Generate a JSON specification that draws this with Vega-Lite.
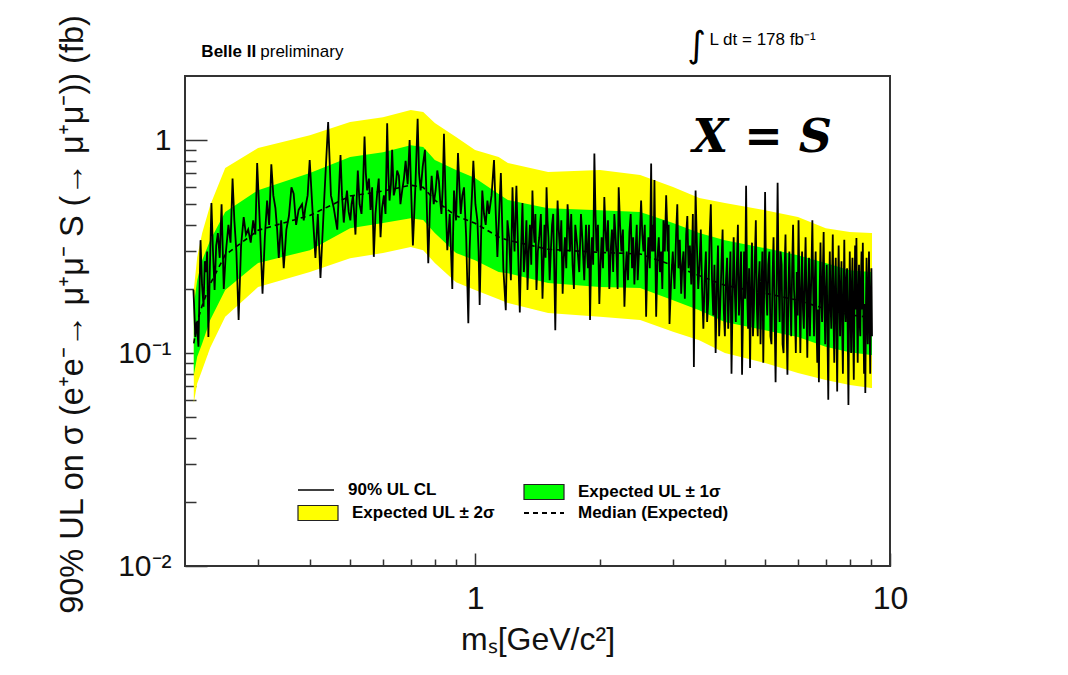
{
  "$schema": "https://vega.github.io/schema/vega-lite/v6.json",
  "width": 705,
  "height": 490,
  "autosize": {"type": "none"},
  "padding": {"left": 185, "top": 76, "right": 178, "bottom": 109},
  "background": "white",
  "config": {
    "view": {"stroke": "#333333", "strokeWidth": 2},
    "font": "Liberation Sans",
    "legend": {"orient": "none", "title": null, "padding": 0, "symbolSize": 1600, "labelOffset": 13, "labelFont": "Liberation Sans", "labelFontWeight": "bold", "labelFontSize": 17, "labelColor": "#000", "symbolOpacity": 1}
  },
  "resolve": {"axis": {"x": "independent", "y": "independent"}, "scale": {"color": "independent"}, "legend": {"color": "independent"}},
  "datasets": {
    "bands": [
      {"m": 0.21, "y2lo": 0.0582, "y1lo": 0.0788, "med": 0.111, "y1hi": 0.168, "y2hi": 0.198},
      {"m": 0.214, "y2lo": 0.072, "y1lo": 0.096, "med": 0.14, "y1hi": 0.22, "y2hi": 0.282},
      {"m": 0.22, "y2lo": 0.0832, "y1lo": 0.111, "med": 0.167, "y1hi": 0.273, "y2hi": 0.366},
      {"m": 0.23, "y2lo": 0.106, "y1lo": 0.143, "med": 0.211, "y1hi": 0.339, "y2hi": 0.495},
      {"m": 0.25, "y2lo": 0.148, "y1lo": 0.198, "med": 0.289, "y1hi": 0.459, "y2hi": 0.739},
      {"m": 0.3, "y2lo": 0.204, "y1lo": 0.265, "med": 0.377, "y1hi": 0.582, "y2hi": 0.917},
      {"m": 0.4, "y2lo": 0.24, "y1lo": 0.304, "med": 0.443, "y1hi": 0.7, "y2hi": 1.055},
      {"m": 0.5, "y2lo": 0.279, "y1lo": 0.386, "med": 0.546, "y1hi": 0.832, "y2hi": 1.215},
      {"m": 0.6, "y2lo": 0.295, "y1lo": 0.408, "med": 0.576, "y1hi": 0.878, "y2hi": 1.282},
      {"m": 0.7, "y2lo": 0.315, "y1lo": 0.43, "med": 0.614, "y1hi": 0.947, "y2hi": 1.383},
      {"m": 0.75, "y2lo": 0.304, "y1lo": 0.421, "med": 0.6, "y1hi": 0.927, "y2hi": 1.354},
      {"m": 0.8, "y2lo": 0.265, "y1lo": 0.366, "med": 0.522, "y1hi": 0.806, "y2hi": 1.202},
      {"m": 0.9, "y2lo": 0.215, "y1lo": 0.295, "med": 0.441, "y1hi": 0.723, "y2hi": 1.033},
      {"m": 1.0, "y2lo": 0.198, "y1lo": 0.273, "med": 0.407, "y1hi": 0.663, "y2hi": 0.898},
      {"m": 1.14, "y2lo": 0.179, "y1lo": 0.24, "med": 0.351, "y1hi": 0.558, "y2hi": 0.832},
      {"m": 1.2, "y2lo": 0.172, "y1lo": 0.237, "med": 0.339, "y1hi": 0.523, "y2hi": 0.78},
      {"m": 1.5, "y2lo": 0.154, "y1lo": 0.213, "med": 0.307, "y1hi": 0.479, "y2hi": 0.708},
      {"m": 2.0, "y2lo": 0.148, "y1lo": 0.204, "med": 0.297, "y1hi": 0.469, "y2hi": 0.723},
      {"m": 2.5, "y2lo": 0.143, "y1lo": 0.202, "med": 0.292, "y1hi": 0.459, "y2hi": 0.685},
      {"m": 3.0, "y2lo": 0.126, "y1lo": 0.177, "med": 0.258, "y1hi": 0.408, "y2hi": 0.602},
      {"m": 3.47, "y2lo": 0.115, "y1lo": 0.159, "med": 0.231, "y1hi": 0.366, "y2hi": 0.534},
      {"m": 4.0, "y2lo": 0.1, "y1lo": 0.14, "med": 0.208, "y1hi": 0.339, "y2hi": 0.506},
      {"m": 5.0, "y2lo": 0.0898, "y1lo": 0.128, "med": 0.191, "y1hi": 0.311, "y2hi": 0.469},
      {"m": 6.0, "y2lo": 0.0805, "y1lo": 0.119, "med": 0.177, "y1hi": 0.288, "y2hi": 0.435},
      {"m": 7.0, "y2lo": 0.0747, "y1lo": 0.107, "med": 0.161, "y1hi": 0.265, "y2hi": 0.386},
      {"m": 8.0, "y2lo": 0.0708, "y1lo": 0.101, "med": 0.151, "y1hi": 0.245, "y2hi": 0.37},
      {"m": 9.0, "y2lo": 0.0685, "y1lo": 0.0979, "med": 0.147, "y1hi": 0.24, "y2hi": 0.366},
      {"m": 9.05, "y2lo": 0.0685, "y1lo": 0.0979, "med": 0.147, "y1hi": 0.24, "y2hi": 0.366}
    ],
    "obs": [
      {"m": 0.2096, "v": 0.198}, {"m": 0.2118, "v": 0.119}, {"m": 0.2135, "v": 0.14}, {"m": 0.2155, "v": 0.107},
      {"m": 0.2168, "v": 0.2}, {"m": 0.218, "v": 0.339}, {"m": 0.2198, "v": 0.21}, {"m": 0.2217, "v": 0.165},
      {"m": 0.2232, "v": 0.27}, {"m": 0.2247, "v": 0.24}, {"m": 0.2262, "v": 0.3}, {"m": 0.2277, "v": 0.119},
      {"m": 0.2296, "v": 0.25}, {"m": 0.2316, "v": 0.506}, {"m": 0.2336, "v": 0.3}, {"m": 0.2357, "v": 0.198},
      {"m": 0.2378, "v": 0.32}, {"m": 0.24, "v": 0.366}, {"m": 0.2425, "v": 0.28}, {"m": 0.245, "v": 0.5},
      {"m": 0.248, "v": 0.2}, {"m": 0.251, "v": 0.3}, {"m": 0.2545, "v": 0.4}, {"m": 0.2575, "v": 0.33},
      {"m": 0.2604, "v": 0.66}, {"m": 0.263, "v": 0.42}, {"m": 0.266, "v": 0.3}, {"m": 0.2693, "v": 0.143},
      {"m": 0.273, "v": 0.32}, {"m": 0.277, "v": 0.435}, {"m": 0.2805, "v": 0.36}, {"m": 0.284, "v": 0.38},
      {"m": 0.288, "v": 0.33}, {"m": 0.292, "v": 0.42}, {"m": 0.2955, "v": 0.36}, {"m": 0.2985, "v": 0.78},
      {"m": 0.303, "v": 0.4}, {"m": 0.3075, "v": 0.19}, {"m": 0.3115, "v": 0.35}, {"m": 0.3154, "v": 0.52},
      {"m": 0.319, "v": 0.4}, {"m": 0.3229, "v": 0.77}, {"m": 0.3265, "v": 0.55}, {"m": 0.3303, "v": 0.48},
      {"m": 0.3335, "v": 0.38}, {"m": 0.3365, "v": 0.28}, {"m": 0.341, "v": 0.42}, {"m": 0.3459, "v": 0.25},
      {"m": 0.351, "v": 0.38}, {"m": 0.356, "v": 0.44}, {"m": 0.361, "v": 0.6}, {"m": 0.3655, "v": 0.56},
      {"m": 0.3705, "v": 0.4}, {"m": 0.3757, "v": 0.47}, {"m": 0.3829, "v": 0.5}, {"m": 0.3865, "v": 0.42},
      {"m": 0.3899, "v": 0.48}, {"m": 0.395, "v": 0.55}, {"m": 0.3995, "v": 0.806}, {"m": 0.406, "v": 0.46},
      {"m": 0.4124, "v": 0.28}, {"m": 0.418, "v": 0.45}, {"m": 0.4241, "v": 0.225}, {"m": 0.4335, "v": 0.55},
      {"m": 0.4426, "v": 1.215}, {"m": 0.4495, "v": 0.55}, {"m": 0.4566, "v": 0.48}, {"m": 0.4655, "v": 0.38},
      {"m": 0.474, "v": 0.85}, {"m": 0.478, "v": 0.55}, {"m": 0.4827, "v": 0.41}, {"m": 0.487, "v": 0.5},
      {"m": 0.4914, "v": 0.58}, {"m": 0.496, "v": 0.46}, {"m": 0.5007, "v": 0.42}, {"m": 0.504, "v": 0.5},
      {"m": 0.508, "v": 0.55}, {"m": 0.5115, "v": 0.45}, {"m": 0.515, "v": 0.36}, {"m": 0.518, "v": 0.5},
      {"m": 0.5218, "v": 0.72}, {"m": 0.527, "v": 0.5}, {"m": 0.5326, "v": 0.45}, {"m": 0.537, "v": 0.6},
      {"m": 0.5416, "v": 1.04}, {"m": 0.5455, "v": 0.7}, {"m": 0.5495, "v": 0.58}, {"m": 0.555, "v": 0.66},
      {"m": 0.56, "v": 0.47}, {"m": 0.565, "v": 0.6}, {"m": 0.5702, "v": 0.283}, {"m": 0.5755, "v": 0.45},
      {"m": 0.5808, "v": 0.56}, {"m": 0.586, "v": 0.66}, {"m": 0.5919, "v": 0.35}, {"m": 0.597, "v": 0.48},
      {"m": 0.603, "v": 0.55}, {"m": 0.6085, "v": 0.45}, {"m": 0.6141, "v": 1.2}, {"m": 0.618, "v": 0.7},
      {"m": 0.6222, "v": 0.52}, {"m": 0.627, "v": 0.62}, {"m": 0.6313, "v": 0.9}, {"m": 0.637, "v": 0.55},
      {"m": 0.6435, "v": 0.6}, {"m": 0.649, "v": 0.72}, {"m": 0.6553, "v": 0.68}, {"m": 0.661, "v": 0.5},
      {"m": 0.6675, "v": 0.58}, {"m": 0.674, "v": 0.66}, {"m": 0.6803, "v": 0.8}, {"m": 0.688, "v": 0.62},
      {"m": 0.6956, "v": 1.0}, {"m": 0.702, "v": 0.55}, {"m": 0.7084, "v": 0.32}, {"m": 0.718, "v": 0.6},
      {"m": 0.7272, "v": 1.26}, {"m": 0.733, "v": 0.7}, {"m": 0.7395, "v": 0.58}, {"m": 0.748, "v": 0.75},
      {"m": 0.7573, "v": 0.9}, {"m": 0.764, "v": 0.55}, {"m": 0.7714, "v": 0.264}, {"m": 0.779, "v": 0.5},
      {"m": 0.7861, "v": 0.68}, {"m": 0.795, "v": 0.5}, {"m": 0.8036, "v": 0.58}, {"m": 0.811, "v": 0.72},
      {"m": 0.8185, "v": 0.64}, {"m": 0.824, "v": 0.52}, {"m": 0.83, "v": 0.45}, {"m": 0.836, "v": 0.6},
      {"m": 0.8416, "v": 1.07}, {"m": 0.85, "v": 0.5}, {"m": 0.8573, "v": 0.304}, {"m": 0.869, "v": 0.45},
      {"m": 0.8814, "v": 0.2}, {"m": 0.885, "v": 0.35}, {"m": 0.8898, "v": 0.58}, {"m": 0.9, "v": 0.42},
      {"m": 0.9097, "v": 0.87}, {"m": 0.917, "v": 0.6}, {"m": 0.9236, "v": 0.45}, {"m": 0.932, "v": 0.55},
      {"m": 0.9406, "v": 0.6}, {"m": 0.952, "v": 0.35}, {"m": 0.9634, "v": 0.138}, {"m": 0.97, "v": 0.3},
      {"m": 0.9763, "v": 0.42}, {"m": 0.983, "v": 0.55}, {"m": 0.9906, "v": 0.8}, {"m": 1.002, "v": 0.5},
      {"m": 1.013, "v": 0.42}, {"m": 1.02, "v": 0.3}, {"m": 1.026, "v": 0.168}, {"m": 1.034, "v": 0.35},
      {"m": 1.041, "v": 0.58}, {"m": 1.051, "v": 0.45}, {"m": 1.061, "v": 0.4}, {"m": 1.071, "v": 0.52},
      {"m": 1.081, "v": 0.45}, {"m": 1.096, "v": 0.55}, {"m": 1.111, "v": 0.806}, {"m": 1.122, "v": 0.45},
      {"m": 1.132, "v": 0.283}, {"m": 1.143, "v": 0.45}, {"m": 1.154, "v": 0.7}, {"m": 1.17, "v": 0.25},
      {"m": 1.186, "v": 0.159}, {"m": 1.197, "v": 0.42}, {"m": 1.208, "v": 0.35}, {"m": 1.22, "v": 0.22},
      {"m": 1.231, "v": 0.6}, {"m": 1.238, "v": 0.4}, {"m": 1.245, "v": 0.3}, {"m": 1.252, "v": 0.45},
      {"m": 1.258, "v": 0.61}, {"m": 1.27, "v": 0.3}, {"m": 1.282, "v": 0.155}, {"m": 1.292, "v": 0.32},
      {"m": 1.301, "v": 0.506}, {"m": 1.311, "v": 0.24}, {"m": 1.321, "v": 0.3}, {"m": 1.33, "v": 0.42},
      {"m": 1.338, "v": 0.198}, {"m": 1.347, "v": 0.3}, {"m": 1.356, "v": 0.4}, {"m": 1.366, "v": 0.26},
      {"m": 1.375, "v": 0.58}, {"m": 1.383, "v": 0.4}, {"m": 1.391, "v": 0.33}, {"m": 1.398, "v": 0.45},
      {"m": 1.406, "v": 0.198}, {"m": 1.417, "v": 0.3}, {"m": 1.428, "v": 0.35}, {"m": 1.441, "v": 0.45},
      {"m": 1.454, "v": 0.18}, {"m": 1.462, "v": 0.26}, {"m": 1.47, "v": 0.4}, {"m": 1.479, "v": 0.28},
      {"m": 1.487, "v": 0.6}, {"m": 1.495, "v": 0.42}, {"m": 1.503, "v": 0.35}, {"m": 1.513, "v": 0.22},
      {"m": 1.523, "v": 0.304}, {"m": 1.533, "v": 0.4}, {"m": 1.543, "v": 0.45}, {"m": 1.552, "v": 0.25},
      {"m": 1.561, "v": 0.128}, {"m": 1.571, "v": 0.3}, {"m": 1.581, "v": 0.52}, {"m": 1.591, "v": 0.38},
      {"m": 1.602, "v": 0.3}, {"m": 1.614, "v": 0.42}, {"m": 1.626, "v": 0.19}, {"m": 1.636, "v": 0.28},
      {"m": 1.647, "v": 0.35}, {"m": 1.659, "v": 0.25}, {"m": 1.671, "v": 0.5}, {"m": 1.682, "v": 0.4},
      {"m": 1.693, "v": 0.3}, {"m": 1.705, "v": 0.45}, {"m": 1.718, "v": 0.26}, {"m": 1.731, "v": 0.2},
      {"m": 1.744, "v": 0.4}, {"m": 1.763, "v": 0.32}, {"m": 1.783, "v": 0.24}, {"m": 1.8, "v": 0.45},
      {"m": 1.816, "v": 0.33}, {"m": 1.833, "v": 0.22}, {"m": 1.851, "v": 0.4}, {"m": 1.862, "v": 0.3},
      {"m": 1.872, "v": 0.25}, {"m": 1.882, "v": 0.4}, {"m": 1.893, "v": 0.143}, {"m": 1.904, "v": 0.28},
      {"m": 1.914, "v": 0.35}, {"m": 1.926, "v": 0.26}, {"m": 1.939, "v": 0.866}, {"m": 1.951, "v": 0.45},
      {"m": 1.963, "v": 0.3}, {"m": 1.978, "v": 0.4}, {"m": 1.993, "v": 0.17}, {"m": 2.006, "v": 0.26},
      {"m": 2.019, "v": 0.35}, {"m": 2.034, "v": 0.25}, {"m": 2.049, "v": 0.54}, {"m": 2.062, "v": 0.38},
      {"m": 2.076, "v": 0.3}, {"m": 2.091, "v": 0.42}, {"m": 2.107, "v": 0.2}, {"m": 2.122, "v": 0.3},
      {"m": 2.138, "v": 0.38}, {"m": 2.152, "v": 0.24}, {"m": 2.166, "v": 0.45}, {"m": 2.18, "v": 0.36},
      {"m": 2.194, "v": 0.28}, {"m": 2.206, "v": 0.2}, {"m": 2.219, "v": 0.6}, {"m": 2.236, "v": 0.4},
      {"m": 2.253, "v": 0.3}, {"m": 2.272, "v": 0.38}, {"m": 2.291, "v": 0.165}, {"m": 2.305, "v": 0.24},
      {"m": 2.32, "v": 0.3}, {"m": 2.337, "v": 0.22}, {"m": 2.355, "v": 0.37}, {"m": 2.372, "v": 0.45},
      {"m": 2.39, "v": 0.25}, {"m": 2.405, "v": 0.35}, {"m": 2.421, "v": 0.21}, {"m": 2.437, "v": 0.3},
      {"m": 2.453, "v": 0.4}, {"m": 2.466, "v": 0.22}, {"m": 2.48, "v": 0.28}, {"m": 2.496, "v": 0.36},
      {"m": 2.513, "v": 0.52}, {"m": 2.53, "v": 0.36}, {"m": 2.546, "v": 0.3}, {"m": 2.565, "v": 0.4},
      {"m": 2.584, "v": 0.148}, {"m": 2.6, "v": 0.26}, {"m": 2.617, "v": 0.35}, {"m": 2.637, "v": 0.25},
      {"m": 2.657, "v": 0.777}, {"m": 2.669, "v": 0.3}, {"m": 2.681, "v": 0.4}, {"m": 2.694, "v": 0.3},
      {"m": 2.706, "v": 0.65}, {"m": 2.719, "v": 0.3}, {"m": 2.732, "v": 0.148}, {"m": 2.752, "v": 0.28},
      {"m": 2.772, "v": 0.35}, {"m": 2.79, "v": 0.24}, {"m": 2.809, "v": 0.3}, {"m": 2.827, "v": 0.2},
      {"m": 2.845, "v": 0.42}, {"m": 2.866, "v": 0.3}, {"m": 2.888, "v": 0.55}, {"m": 2.901, "v": 0.42},
      {"m": 2.914, "v": 0.3}, {"m": 2.928, "v": 0.4}, {"m": 2.942, "v": 0.137}, {"m": 2.969, "v": 0.22},
      {"m": 2.996, "v": 0.3}, {"m": 3.025, "v": 0.2}, {"m": 3.053, "v": 0.37}, {"m": 3.072, "v": 0.5},
      {"m": 3.092, "v": 0.25}, {"m": 3.115, "v": 0.34}, {"m": 3.139, "v": 0.19}, {"m": 3.159, "v": 0.26},
      {"m": 3.179, "v": 0.3}, {"m": 3.203, "v": 0.18}, {"m": 3.227, "v": 0.36}, {"m": 3.248, "v": 0.44},
      {"m": 3.269, "v": 0.25}, {"m": 3.294, "v": 0.32}, {"m": 3.319, "v": 0.21}, {"m": 3.334, "v": 0.3},
      {"m": 3.349, "v": 0.45}, {"m": 3.368, "v": 0.086}, {"m": 3.384, "v": 0.25}, {"m": 3.4, "v": 0.58},
      {"m": 3.425, "v": 0.32}, {"m": 3.45, "v": 0.2}, {"m": 3.475, "v": 0.26}, {"m": 3.5, "v": 0.38},
      {"m": 3.525, "v": 0.2}, {"m": 3.55, "v": 0.13}, {"m": 3.575, "v": 0.22}, {"m": 3.6, "v": 0.3},
      {"m": 3.625, "v": 0.14}, {"m": 3.65, "v": 0.18}, {"m": 3.675, "v": 0.35}, {"m": 3.7, "v": 0.5},
      {"m": 3.725, "v": 0.22}, {"m": 3.75, "v": 0.15}, {"m": 3.775, "v": 0.26}, {"m": 3.8, "v": 0.1},
      {"m": 3.825, "v": 0.2}, {"m": 3.85, "v": 0.32}, {"m": 3.875, "v": 0.12}, {"m": 3.9, "v": 0.17},
      {"m": 3.925, "v": 0.26}, {"m": 3.95, "v": 0.38}, {"m": 3.975, "v": 0.16}, {"m": 4.0, "v": 0.12},
      {"m": 4.025, "v": 0.22}, {"m": 4.05, "v": 0.28}, {"m": 4.075, "v": 0.13}, {"m": 4.1, "v": 0.2},
      {"m": 4.125, "v": 0.3}, {"m": 4.15, "v": 0.08}, {"m": 4.175, "v": 0.18}, {"m": 4.2, "v": 0.35},
      {"m": 4.225, "v": 0.2}, {"m": 4.25, "v": 0.14}, {"m": 4.275, "v": 0.26}, {"m": 4.3, "v": 0.4},
      {"m": 4.325, "v": 0.15}, {"m": 4.35, "v": 0.2}, {"m": 4.375, "v": 0.3}, {"m": 4.4, "v": 0.079},
      {"m": 4.425, "v": 0.16}, {"m": 4.45, "v": 0.3}, {"m": 4.475, "v": 0.18}, {"m": 4.5, "v": 0.61},
      {"m": 4.525, "v": 0.2}, {"m": 4.55, "v": 0.13}, {"m": 4.575, "v": 0.25}, {"m": 4.6, "v": 0.085},
      {"m": 4.625, "v": 0.2}, {"m": 4.65, "v": 0.33}, {"m": 4.675, "v": 0.12}, {"m": 4.7, "v": 0.16},
      {"m": 4.725, "v": 0.28}, {"m": 4.75, "v": 0.42}, {"m": 4.775, "v": 0.17}, {"m": 4.8, "v": 0.12},
      {"m": 4.825, "v": 0.22}, {"m": 4.85, "v": 0.27}, {"m": 4.875, "v": 0.11}, {"m": 4.9, "v": 0.2},
      {"m": 4.925, "v": 0.3}, {"m": 4.95, "v": 0.09}, {"m": 4.975, "v": 0.2}, {"m": 5.0, "v": 0.57},
      {"m": 5.03, "v": 0.2}, {"m": 5.06, "v": 0.15}, {"m": 5.09, "v": 0.26}, {"m": 5.12, "v": 0.3},
      {"m": 5.15, "v": 0.12}, {"m": 5.18, "v": 0.11}, {"m": 5.21, "v": 0.22}, {"m": 5.24, "v": 0.35},
      {"m": 5.27, "v": 0.16}, {"m": 5.3, "v": 0.073}, {"m": 5.33, "v": 0.2}, {"m": 5.36, "v": 0.63},
      {"m": 5.39, "v": 0.22}, {"m": 5.42, "v": 0.14}, {"m": 5.45, "v": 0.3}, {"m": 5.48, "v": 0.26},
      {"m": 5.51, "v": 0.11}, {"m": 5.54, "v": 0.1}, {"m": 5.57, "v": 0.24}, {"m": 5.6, "v": 0.36},
      {"m": 5.63, "v": 0.15}, {"m": 5.66, "v": 0.079}, {"m": 5.69, "v": 0.2}, {"m": 5.72, "v": 0.3},
      {"m": 5.75, "v": 0.18}, {"m": 5.78, "v": 0.12}, {"m": 5.81, "v": 0.25}, {"m": 5.84, "v": 0.4},
      {"m": 5.87, "v": 0.2}, {"m": 5.9, "v": 0.16}, {"m": 5.93, "v": 0.1}, {"m": 5.96, "v": 0.24},
      {"m": 5.99, "v": 0.15}, {"m": 6.02, "v": 0.42}, {"m": 6.05, "v": 0.2}, {"m": 6.08, "v": 0.1},
      {"m": 6.11, "v": 0.2}, {"m": 6.14, "v": 0.3}, {"m": 6.17, "v": 0.16}, {"m": 6.2, "v": 0.13},
      {"m": 6.23, "v": 0.22}, {"m": 6.26, "v": 0.35}, {"m": 6.29, "v": 0.18}, {"m": 6.32, "v": 0.095},
      {"m": 6.35, "v": 0.2}, {"m": 6.38, "v": 0.28}, {"m": 6.41, "v": 0.12}, {"m": 6.44, "v": 0.17},
      {"m": 6.47, "v": 0.26}, {"m": 6.5, "v": 0.42}, {"m": 6.53, "v": 0.2}, {"m": 6.56, "v": 0.12},
      {"m": 6.59, "v": 0.22}, {"m": 6.62, "v": 0.3}, {"m": 6.65, "v": 0.14}, {"m": 6.68, "v": 0.09},
      {"m": 6.71, "v": 0.16}, {"m": 6.74, "v": 0.073}, {"m": 6.77, "v": 0.2}, {"m": 6.8, "v": 0.33},
      {"m": 6.83, "v": 0.18}, {"m": 6.86, "v": 0.14}, {"m": 6.89, "v": 0.24}, {"m": 6.92, "v": 0.37},
      {"m": 6.95, "v": 0.17}, {"m": 6.98, "v": 0.11}, {"m": 7.01, "v": 0.2}, {"m": 7.04, "v": 0.26},
      {"m": 7.07, "v": 0.12}, {"m": 7.1, "v": 0.0604}, {"m": 7.13, "v": 0.18}, {"m": 7.16, "v": 0.3},
      {"m": 7.19, "v": 0.17}, {"m": 7.22, "v": 0.13}, {"m": 7.25, "v": 0.22}, {"m": 7.28, "v": 0.36},
      {"m": 7.31, "v": 0.15}, {"m": 7.34, "v": 0.09}, {"m": 7.37, "v": 0.2}, {"m": 7.4, "v": 0.28},
      {"m": 7.43, "v": 0.14}, {"m": 7.46, "v": 0.066}, {"m": 7.49, "v": 0.18}, {"m": 7.52, "v": 0.32},
      {"m": 7.55, "v": 0.19}, {"m": 7.58, "v": 0.12}, {"m": 7.61, "v": 0.2}, {"m": 7.64, "v": 0.27},
      {"m": 7.67, "v": 0.13}, {"m": 7.7, "v": 0.08}, {"m": 7.73, "v": 0.18}, {"m": 7.76, "v": 0.34},
      {"m": 7.79, "v": 0.17}, {"m": 7.82, "v": 0.14}, {"m": 7.85, "v": 0.22}, {"m": 7.88, "v": 0.25},
      {"m": 7.91, "v": 0.12}, {"m": 7.94, "v": 0.057}, {"m": 7.97, "v": 0.16}, {"m": 8.0, "v": 0.3},
      {"m": 8.03, "v": 0.17}, {"m": 8.06, "v": 0.1}, {"m": 8.09, "v": 0.2}, {"m": 8.12, "v": 0.28},
      {"m": 8.15, "v": 0.13}, {"m": 8.18, "v": 0.075}, {"m": 8.21, "v": 0.17}, {"m": 8.24, "v": 0.32},
      {"m": 8.27, "v": 0.16}, {"m": 8.3, "v": 0.347}, {"m": 8.33, "v": 0.15}, {"m": 8.36, "v": 0.09},
      {"m": 8.39, "v": 0.18}, {"m": 8.42, "v": 0.26}, {"m": 8.45, "v": 0.14}, {"m": 8.48, "v": 0.12},
      {"m": 8.51, "v": 0.22}, {"m": 8.54, "v": 0.3}, {"m": 8.57, "v": 0.16}, {"m": 8.6, "v": 0.33},
      {"m": 8.63, "v": 0.14}, {"m": 8.66, "v": 0.08}, {"m": 8.69, "v": 0.17}, {"m": 8.72, "v": 0.065},
      {"m": 8.75, "v": 0.16}, {"m": 8.78, "v": 0.28}, {"m": 8.81, "v": 0.15}, {"m": 8.84, "v": 0.11},
      {"m": 8.87, "v": 0.2}, {"m": 8.9, "v": 0.3}, {"m": 8.93, "v": 0.14}, {"m": 8.96, "v": 0.08},
      {"m": 8.99, "v": 0.17}, {"m": 9.02, "v": 0.25}, {"m": 9.05, "v": 0.12}
    ]
  },
  "layer": [
    {
      "data": {"name": "bands"},
      "mark": {"type": "area", "opacity": 1},
      "encoding": {
        "x": {"field": "m", "type": "quantitative", "scale": {"type": "log", "domain": [0.2, 10], "nice": false},
          "axis": {"orient": "bottom", "values": [1, 10], "format": "~g", "labelFlush": false, "domain": false, "grid": false,
            "tickSize": -13, "tickColor": "#333", "tickWidth": 1.5, "labelPadding": 30, "labelFontSize": 32, "labelFont": "Liberation Sans", "labelColor": "#111",
            "title": "mₛ[GeV/c²]", "titleFontSize": 32, "titleFontWeight": "normal", "titleFont": "Liberation Sans", "titleColor": "#111", "titleY": 58, "titleBaseline": "top"}},
        "y": {"field": "y2lo", "type": "quantitative", "scale": {"type": "log", "domain": [0.01, 2], "nice": false},
          "axis": {"orient": "left", "values": [0.01, 0.1, 1], "labelExpr": "datum.value > 0.5 ? '1' : datum.value > 0.05 ? '10⁻¹' : '10⁻²'", "labelFlush": false, "domain": false, "grid": false,
            "tickSize": -22, "tickColor": "#333", "tickWidth": 1.5, "labelPadding": 36, "labelFontSize": 30, "labelFont": "Liberation Sans", "labelColor": "#111",
            "title": "90% UL on σ (e⁺e⁻→ μ⁺μ⁻ S (→ μ⁺μ⁻)) (fb)", "titleFontSize": 32.5, "titleFontWeight": "normal", "titleFont": "Liberation Sans", "titleColor": "#111", "titleX": -96, "titleY": 238, "titleBaseline": "bottom"}},
        "y2": {"field": "y2hi"},
        "color": {"datum": "Expected UL ± 2σ", "type": "nominal", "scale": {"domain": ["Expected UL ± 2σ"], "range": ["#ffff00"]},
          "legend": {"legendX": 112, "legendY": 416, "symbolType": "M-1,-0.375H1V0.375H-1Z", "symbolStrokeColor": "#000", "symbolStrokeWidth": 1,
            "encode": {"symbols": {"update": {"stroke": {"value": "#222222"}, "strokeWidth": {"value": 1.2}}}}}}
      }
    },
    {
      "data": {"name": "bands"},
      "mark": {"type": "area", "opacity": 1},
      "encoding": {
        "x": {"field": "m", "type": "quantitative", "scale": {"type": "log", "domain": [0.2, 10], "nice": false},
          "axis": {"orient": "bottom", "values": [0.3, 0.4, 0.5, 0.6, 0.7, 0.8, 0.9, 2, 3, 4, 5, 6, 7, 8, 9], "labels": false, "domain": false, "grid": false, "tickSize": -7, "tickColor": "#333", "tickWidth": 1.5, "title": null}},
        "y": {"field": "y1lo", "type": "quantitative", "scale": {"type": "log", "domain": [0.01, 2], "nice": false},
          "axis": {"orient": "left", "values": [0.02, 0.03, 0.04, 0.05, 0.06, 0.07, 0.08, 0.09, 0.2, 0.3, 0.4, 0.5, 0.6, 0.7, 0.8, 0.9], "labels": false, "domain": false, "grid": false, "tickSize": -11, "tickColor": "#333", "tickWidth": 1.5, "title": null}},
        "y2": {"field": "y1hi"},
        "color": {"datum": "Expected UL ± 1σ", "type": "nominal", "scale": {"domain": ["Expected UL ± 1σ"], "range": ["#00ff00"]},
          "legend": {"legendX": 338, "legendY": 395, "symbolType": "M-1,-0.375H1V0.375H-1Z", "symbolStrokeColor": "#000", "symbolStrokeWidth": 1,
            "encode": {"symbols": {"update": {"stroke": {"value": "#222222"}, "strokeWidth": {"value": 1.2}}}}}}
      }
    },
    {
      "data": {"name": "bands"},
      "mark": {"type": "line", "strokeDash": [5, 4], "strokeWidth": 1.6},
      "encoding": {
        "x": {"field": "m", "type": "quantitative", "scale": {"type": "log", "domain": [0.2, 10], "nice": false}, "axis": null},
        "y": {"field": "med", "type": "quantitative", "scale": {"type": "log", "domain": [0.01, 2], "nice": false}, "axis": null},
        "color": {"datum": "Median (Expected)", "type": "nominal", "scale": {"domain": ["Median (Expected)"], "range": ["#000000"]},
          "legend": {"legendX": 338, "legendY": 416, "symbolType": "stroke", "symbolDash": [5, 4], "symbolStrokeWidth": 2}}
      }
    },
    {
      "data": {"name": "obs"},
      "mark": {"type": "line", "strokeWidth": 1.8},
      "encoding": {
        "x": {"field": "m", "type": "quantitative", "scale": {"type": "log", "domain": [0.2, 10], "nice": false}, "axis": null},
        "y": {"field": "v", "type": "quantitative", "scale": {"type": "log", "domain": [0.01, 2], "nice": false}, "axis": null},
        "color": {"datum": "90% UL CL", "type": "nominal", "scale": {"domain": ["90% UL CL"], "range": ["#000000"]},
          "legend": {"legendX": 112, "legendY": 395, "symbolType": "stroke", "symbolSize": 1300, "symbolStrokeWidth": 1.5}}
      }
    },
    {
      "data": {"values": [{}]},
      "mark": {"type": "text", "text": "Belle II", "font": "Liberation Sans", "fontWeight": "bold", "fontSize": 17, "align": "left", "baseline": "alphabetic", "color": "#000"},
      "encoding": {
        "x": {"datum": 0.219, "type": "quantitative", "scale": {"type": "log", "domain": [0.2, 10], "nice": false}, "axis": null},
        "y": {"datum": 2.466, "type": "quantitative", "scale": {"type": "log", "domain": [0.01, 2], "nice": false}, "axis": null}
      }
    },
    {
      "data": {"values": [{}]},
      "mark": {"type": "text", "text": "preliminary", "font": "Liberation Sans", "fontSize": 17, "align": "left", "baseline": "alphabetic", "color": "#000"},
      "encoding": {
        "x": {"datum": 0.3037, "type": "quantitative", "scale": {"type": "log", "domain": [0.2, 10], "nice": false}, "axis": null},
        "y": {"datum": 2.466, "type": "quantitative", "scale": {"type": "log", "domain": [0.01, 2], "nice": false}, "axis": null}
      }
    },
    {
      "data": {"values": [{}]},
      "mark": {"type": "text", "text": "∫", "font": "DejaVu Sans", "fontSize": 36, "align": "center", "baseline": "middle", "color": "#000"},
      "encoding": {
        "x": {"datum": 3.42, "type": "quantitative", "scale": {"type": "log", "domain": [0.2, 10], "nice": false}, "axis": null},
        "y": {"datum": 2.77, "type": "quantitative", "scale": {"type": "log", "domain": [0.01, 2], "nice": false}, "axis": null}
      }
    },
    {
      "data": {"values": [{}]},
      "mark": {"type": "text", "text": "L dt = 178 fb⁻¹", "font": "Liberation Sans", "fontSize": 17, "align": "left", "baseline": "alphabetic", "color": "#000"},
      "encoding": {
        "x": {"datum": 3.674, "type": "quantitative", "scale": {"type": "log", "domain": [0.2, 10], "nice": false}, "axis": null},
        "y": {"datum": 2.8, "type": "quantitative", "scale": {"type": "log", "domain": [0.01, 2], "nice": false}, "axis": null}
      }
    },
    {
      "data": {"values": [{}]},
      "mark": {"type": "text", "text": "X = S", "font": "DejaVu Serif", "fontWeight": "bold", "fontStyle": "italic", "fontSize": 46, "align": "left", "baseline": "alphabetic", "color": "#000"},
      "encoding": {
        "x": {"datum": 3.344, "type": "quantitative", "scale": {"type": "log", "domain": [0.2, 10], "nice": false}, "axis": null},
        "y": {"datum": 0.88, "type": "quantitative", "scale": {"type": "log", "domain": [0.01, 2], "nice": false}, "axis": null}
      }
    }
  ]
}
